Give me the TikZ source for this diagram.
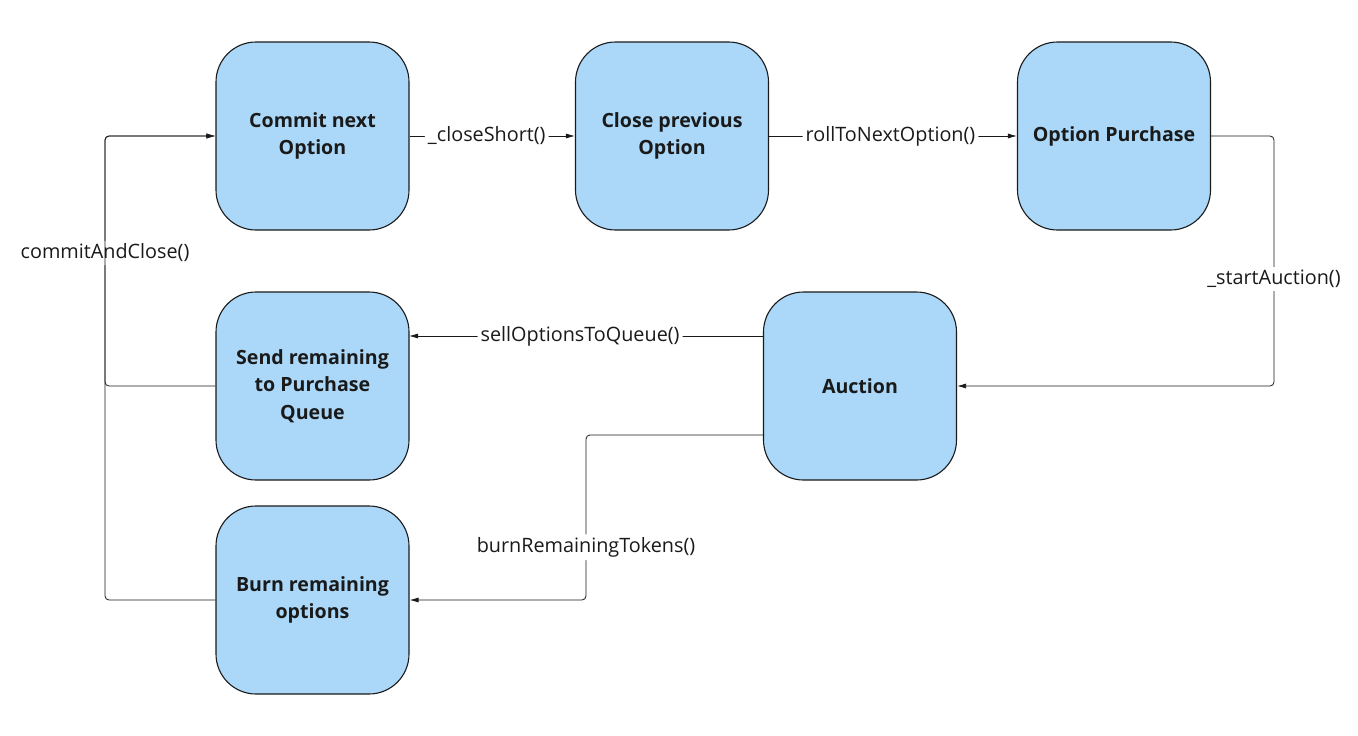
\documentclass[tikz,border=0pt]{standalone}
\usepackage{fontspec}
\setmainfont{Open Sans}
\usetikzlibrary{arrows.meta}
\definecolor{boxfill}{HTML}{ABD8F8}
\definecolor{boxtext}{HTML}{1A1A1A}
\begin{document}
\begin{tikzpicture}[x=1pt,y=-1pt,
  state/.style={draw=boxtext, line width=1.1pt, fill=boxfill, rounded corners=40pt,
    minimum width=193pt, minimum height=188pt, align=center, text=boxtext,
    font=\fontsize{19.6}{27.5}\selectfont\bfseries, inner sep=0pt},
  conn/.style={draw=boxtext, line width=0.8pt, rounded corners=4pt, -{Latex[length=9pt,width=5pt]}},
  lbl/.style={fill=white, text=boxtext, font=\fontsize{19.8}{22}\selectfont, inner sep=3pt}]
\useasboundingbox (0,0) rectangle (1358,736);
\node[state] (commit) at (312.5,136) {Commit next\\Option};
\node[state] (close) at (672,136) {Close previous\\Option};
\node[state] (purchase) at (1114,136) {Option Purchase};
\node[state] (send) at (312.5,386) {Send remaining\\to Purchase\\Queue};
\node[state] (auction) at (860,386) {Auction};
\node[state] (burn) at (312.5,600) {Burn remaining\\options};

\coordinate (c1) at (1274,136);
\coordinate (c2) at (1274,386);
\coordinate (a1) at (764,336);
\coordinate (s1) at (409,336);
\coordinate (a2) at (764,435);
\coordinate (c3) at (586,435);
\coordinate (c4) at (586,600);
\coordinate (c5) at (105,386);
\coordinate (c6) at (105,136);
\coordinate (c7) at (105,600);

\draw[conn] (commit.east) -- node[lbl, pos=0.467] {\_closeShort()} (close.west);
\draw[conn] (close.east) -- node[lbl, pos=0.49] {rollToNextOption()} (purchase.west);
\draw[conn] (purchase.east) -- (c1) -- node[lbl, pos=0.572] {\_startAuction()} (c2) -- (auction.east);
\draw[conn] (a1) -- node[lbl, pos=0.518] {sellOptionsToQueue()} (s1);
\draw[conn] (a2) -- (c3) -- node[lbl, pos=0.68] {burnRemainingTokens()} (c4) -- (burn.east);
\draw[conn] (send.west) -- (c5) -- node[lbl, pos=0.532] {commitAndClose()} (c6) -- (commit.west);
\draw[conn] (burn.west) -- (c7) -- (c6) -- (commit.west);
\end{tikzpicture}
\end{document}
